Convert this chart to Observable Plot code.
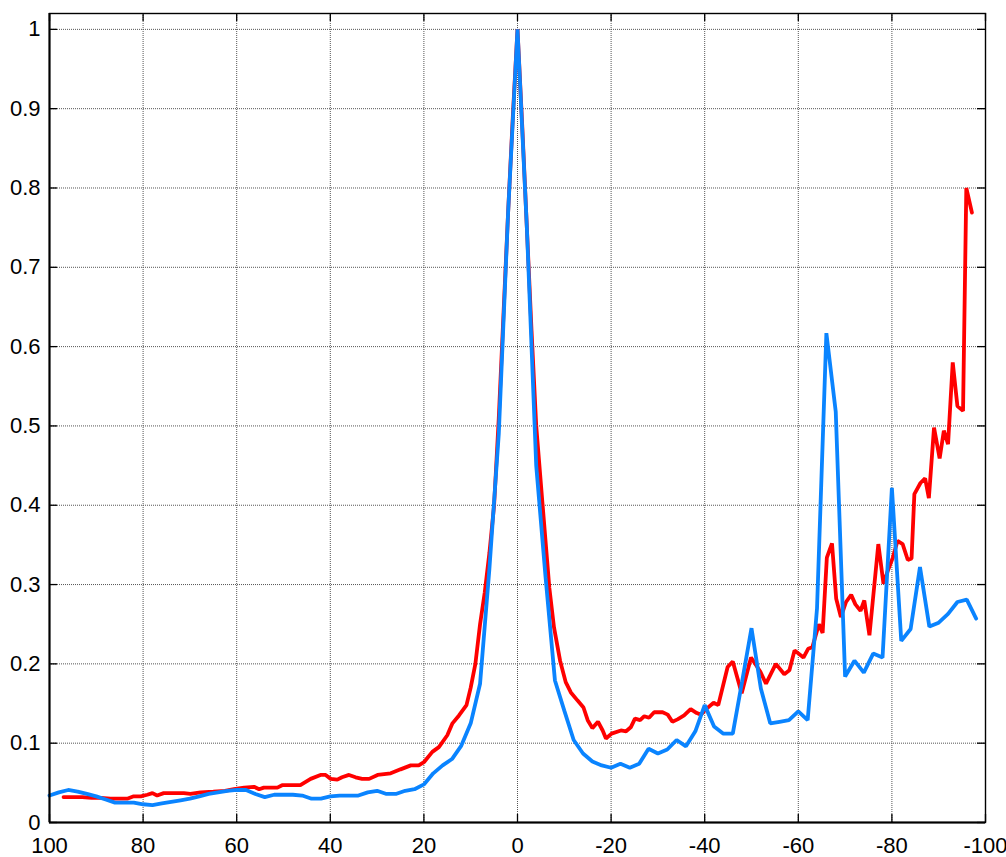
<!DOCTYPE html>
<html><head><meta charset="utf-8">
<script src="https://cdn.jsdelivr.net/npm/d3@7"></script>
<script src="https://cdn.jsdelivr.net/npm/@observablehq/plot@0.6"></script>
<style>body{margin:0;background:#fff;} #chart svg{display:block;}</style>
</head><body><div id="chart"></div>
<script>
const xTicks = [100, 80, 60, 40, 20, 0, -20, -40, -60, -80, -100];
const xTickLabels = ["100", "80", "60", "40", "20", "0", "-20", "-40", "-60", "-80", "-100"];
const yTicks = [0, 0.1, 0.2, 0.3, 0.4, 0.5, 0.6, 0.7, 0.8, 0.9, 1];
const yTickLabels = ["0", "0.1", "0.2", "0.3", "0.4", "0.5", "0.6", "0.7", "0.8", "0.9", "1"];

const redX = [97, 95, 93, 91, 89, 87, 85, 83.4, 82, 80.5, 79.1, 78, 77, 75.6, 73, 71.3, 69.9, 67.7, 65, 62.5,
  60.6, 58.4, 56.3, 55.2, 54.2, 51.3, 50.3, 46.4, 44.2, 42.1, 41, 39.9, 38.5, 37.5, 36, 34.6, 33.2, 31.7, 29.9, 28.5,
  27.1, 25, 22.8, 21.1, 20, 18.2, 16.8, 15, 13.9, 12.5, 10.9, 10, 9, 8, 7, 6, 5, 4, 3, 2, 1, 0,
  -1, -2, -3, -4, -5.3, -6.8, -7.8, -9.1, -10.3, -11.4, -12.8, -14.1, -15, -16, -17.2, -18.2, -18.9, -20.1,
  -22.1, -23.2, -24.2, -25.1, -26.2, -27.1, -28.1, -29.2, -31, -32.1, -33.1, -34.2, -35.6, -37, -38.3, -39.2,
  -40.3, -41.9, -42.9, -44.9, -46, -47.9, -49.9, -51.9, -53.1, -55.2, -57, -58.1, -59.2, -61.1, -62.1, -63,
  -64.4, -65.2, -66.1, -67.2, -68.1, -69.1, -70.2, -71.3, -72.2, -73.3, -74.1, -75.2, -77.1, -78.2, -79.1, -80.2,
  -81.2, -82.3, -83.4, -84.2, -84.8, -86.1, -87.1, -87.9, -89, -90.2, -91.1, -92, -93, -94, -95.2, -95.9, -97.1];
const redY = [0.032, 0.032, 0.032, 0.031, 0.031, 0.030, 0.030, 0.030, 0.033, 0.033, 0.035, 0.037, 0.034, 0.037, 0.037, 0.037, 0.036, 0.038, 0.039, 0.040,
  0.042, 0.044, 0.045, 0.042, 0.044, 0.044, 0.047, 0.047, 0.055, 0.060, 0.060, 0.055, 0.054, 0.057, 0.060, 0.057, 0.055, 0.055, 0.060, 0.061,
  0.062, 0.067, 0.072, 0.072, 0.076, 0.089, 0.095, 0.110, 0.125, 0.135, 0.148, 0.170, 0.200, 0.250, 0.290, 0.340, 0.400, 0.510, 0.640, 0.770, 0.890, 1.0,
  0.880, 0.750, 0.620, 0.500, 0.405, 0.296, 0.246, 0.204, 0.177, 0.164, 0.154, 0.145, 0.129, 0.119, 0.127, 0.116, 0.106, 0.112,
  0.116, 0.115, 0.120, 0.131, 0.129, 0.134, 0.132, 0.139, 0.139, 0.136, 0.127, 0.130, 0.135, 0.143, 0.138, 0.136,
  0.143, 0.151, 0.148, 0.196, 0.203, 0.163, 0.208, 0.190, 0.175, 0.200, 0.187, 0.192, 0.217, 0.208, 0.219, 0.221,
  0.250, 0.239, 0.334, 0.352, 0.282, 0.259, 0.278, 0.287, 0.275, 0.267, 0.280, 0.236, 0.351, 0.301, 0.317, 0.334,
  0.355, 0.351, 0.331, 0.333, 0.414, 0.428, 0.434, 0.409, 0.498, 0.459, 0.494, 0.477, 0.580, 0.525, 0.519, 0.800, 0.769];

const blueX = [100, 98, 96, 94, 92, 90, 88, 86, 84, 82, 80, 78, 76, 74, 72, 70, 68, 66, 64, 62,
  60, 58, 56, 54, 52, 50, 48, 46, 44, 42, 40, 38, 36, 34, 32, 30, 28, 26, 24, 22,
  20, 18, 16, 14, 12, 10, 8, 6, 4, 2, 0, -2, -4, -6, -8, -10, -12, -14, -16, -18,
  -20, -22, -24, -26, -28, -30, -32, -34, -36, -38, -40, -42, -44, -46, -48, -50, -52, -54, -56, -58,
  -60, -62, -64, -66, -68, -70, -72, -74, -76, -78, -80, -82, -84, -86, -88, -90, -92, -94, -96, -98];
const blueY = [0.034, 0.038, 0.041, 0.039, 0.036, 0.033, 0.029, 0.025, 0.025, 0.025, 0.023, 0.022, 0.024, 0.026, 0.028, 0.030, 0.033, 0.036, 0.038, 0.040,
  0.041, 0.041, 0.036, 0.032, 0.035, 0.035, 0.035, 0.034, 0.030, 0.030, 0.033, 0.034, 0.034, 0.034, 0.038, 0.040, 0.036, 0.036, 0.040, 0.042,
  0.048, 0.062, 0.072, 0.080, 0.097, 0.125, 0.175, 0.320, 0.490, 0.770, 1.0, 0.750, 0.450, 0.309, 0.179, 0.141, 0.104, 0.087, 0.077, 0.072,
  0.069, 0.074, 0.069, 0.074, 0.093, 0.087, 0.092, 0.104, 0.096, 0.115, 0.148, 0.121, 0.112, 0.112, 0.178, 0.245, 0.169, 0.125, 0.127, 0.129,
  0.140, 0.129, 0.270, 0.617, 0.518, 0.184, 0.204, 0.189, 0.213, 0.208, 0.422, 0.229, 0.244, 0.322, 0.247, 0.252, 0.263, 0.278, 0.281, 0.257];

const W = 1006, H = 857, mL = 49, mR = 21, mT = 13, mB = 35;
const innerW = W - mL - mR, innerH = H - mT - mB;
const tickLen = 8;

const red = redX.map((x, i) => ({x, y: redY[i]}));
const blue = blueX.map((x, i) => ({x, y: blueY[i]}));

const gridStyle = {stroke: "#555", strokeWidth: 1, strokeDasharray: "1,1"};

const chart = Plot.plot({
  width: W, height: H,
  marginLeft: mL, marginRight: mR, marginTop: mT, marginBottom: mB,
  style: {fontFamily: "'Liberation Sans', Arial, sans-serif", fontSize: "22px", background: "#fff", color: "#000", overflow: "visible"},
  x: {domain: [100, -100]},
  y: {domain: [0, 1.02]},
  marks: [
    Plot.ruleX(xTicks, gridStyle),
    Plot.ruleY(yTicks, gridStyle),
    Plot.line(red, {x: "x", y: "y", stroke: "#ff0000", strokeWidth: 3.8, strokeLinejoin: "miter"}),
    Plot.line(blue, {x: "x", y: "y", stroke: "#0a84ff", strokeWidth: 3.8, strokeLinejoin: "miter"}),
    Plot.ruleX(xTicks, {stroke: "#000", strokeWidth: 1.3, insetBottom: innerH - tickLen}),
    Plot.ruleX(xTicks, {stroke: "#000", strokeWidth: 1.3, insetTop: innerH - tickLen}),
    Plot.ruleY(yTicks, {stroke: "#000", strokeWidth: 1.3, insetRight: innerW - tickLen}),
    Plot.ruleY(yTicks, {stroke: "#000", strokeWidth: 1.3, insetLeft: innerW - tickLen}),
    Plot.frame({stroke: "#000", strokeWidth: 1.4}),
    Plot.ruleY([0], {stroke: "#000", strokeWidth: 2}),
    Plot.ruleX([100], {stroke: "#000", strokeWidth: 2}),
    Plot.axisX(xTicks, {anchor: "bottom", label: null, tickSize: 0, tickPadding: 15, fontSize: 22,
      tickFormat: (d) => xTickLabels[xTicks.indexOf(d)]}),
    Plot.axisY(yTicks, {anchor: "left", label: null, tickSize: 0, tickPadding: 9, fontSize: 22,
      tickFormat: (d) => yTickLabels[yTicks.indexOf(d)]})
  ]
});
document.getElementById("chart").appendChild(chart);
</script>
</body></html>
